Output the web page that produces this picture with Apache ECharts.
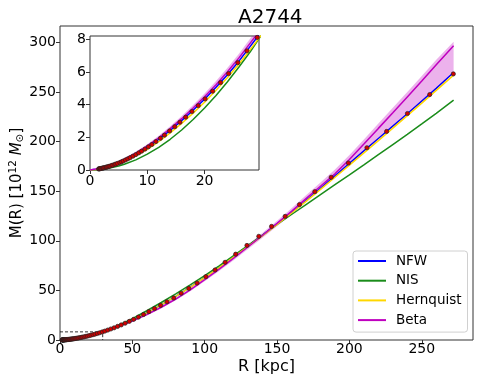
<!DOCTYPE html>
<html>
<head>
<meta charset="utf-8">
<script src="https://cdn.jsdelivr.net/npm/echarts@6/dist/echarts.min.js"></script>
<style>
html, body { margin: 0; padding: 0; background: #fff; }
#chart { width: 480px; height: 384px; }
</style>
</head>
<body>
<div id="chart"></div>
<script>
// measured points (red dots)
var R_PTS = [1.5, 1.6, 1.7, 1.8, 1.9, 2.0, 2.2, 2.3, 2.4, 2.6,
	2.8, 2.9, 3.1, 3.3, 3.5, 3.8, 4.0, 4.3, 4.5, 4.8,
	5.2, 5.5, 5.8, 6.2, 6.6, 7.0, 7.5, 8.0, 8.5, 9.0,
	9.6, 10.2, 10.8, 11.5, 12.3, 13.0, 13.9, 14.8, 15.7, 16.7,
	17.8, 18.9, 20.1, 21.4, 22.8, 24.2, 25.8, 27.4, 29.2, 31.0,
	33.0, 35.1, 37.4, 39.8, 42.3, 45.0, 47.9, 50.9, 54.2, 57.7,
	61.4, 65.3, 69.5, 73.9, 78.6, 83.7, 89.0, 94.7, 100.8, 107.2,
	114.1, 121.4, 129.2, 137.4, 146.2, 155.6, 165.5, 176.1, 187.4, 199.3,
	212.1, 225.7, 240.1, 255.5, 271.8];
var M_PTS = [0.064, 0.071, 0.078, 0.085, 0.092, 0.099, 0.116, 0.124, 0.133, 0.151,
	0.170, 0.180, 0.200, 0.221, 0.243, 0.277, 0.301, 0.338, 0.363, 0.403,
	0.458, 0.503, 0.550, 0.615, 0.683, 0.754, 0.847, 0.944, 1.045, 1.15,
	1.28, 1.42, 1.56, 1.74, 1.94, 2.13, 2.39, 2.65, 2.92, 3.23,
	3.58, 3.94, 4.35, 4.82, 5.35, 5.90, 6.57, 7.29, 8.11, 8.98,
	10.0, 11.1, 12.3, 13.7, 15.2, 16.9, 18.8, 20.8, 23.1, 25.7,
	28.6, 31.7, 34.9, 38.5, 42.4, 47.1, 52.0, 57.4, 63.8, 70.6,
	78.3, 86.5, 95.3, 104.5, 114.5, 124.6, 136.5, 149.5, 164.0, 178.4,
	193.8, 210.2, 228.3, 247.4, 268.2];

// model curves
var R_CURVE = [0, 1, 2, 3, 4, 5, 6, 8, 10, 12, 14, 16, 18, 20, 22, 24, 26, 28, 30, 35, 40, 45, 50,
	60, 70, 80, 90, 100, 110, 120, 130, 140, 150, 160, 170, 180, 190, 200, 210, 220, 230, 240, 250, 260, 272];
var NFW = [0, 0.05, 0.12, 0.21, 0.32, 0.45, 0.6, 0.95, 1.38, 1.87, 2.42, 3.02, 3.66, 4.33, 5.06, 5.83, 6.66, 7.58, 8.5, 11.0, 13.8, 16.9, 20.2,
	27.4, 35.4, 44.0, 53.2, 63.0, 73.3, 84.0, 94.8, 105.8, 117.0, 128.6, 140.6, 152.9, 165.4, 178.0, 190.6, 203.1, 215.6, 228.1, 240.8, 253.6, 269.6];
var NIS = [0, 0.01, 0.04, 0.09, 0.16, 0.24, 0.35, 0.62, 0.97, 1.39, 1.88, 2.45, 3.09, 3.8, 4.56, 5.4, 6.3, 7.25, 8.3, 11.2, 14.4, 17.9, 21.6,
	29.5, 37.8, 46.5, 55.6, 65.0, 74.8, 85.0, 95.4, 105.8, 116.5, 126.5, 136.5, 146.5, 156.5, 166.5, 176.6, 186.8, 197.0, 207.3, 217.8, 228.5, 241.7];
var HERNQUIST = [0, 0.03, 0.09, 0.17, 0.27, 0.39, 0.53, 0.86, 1.26, 1.73, 2.27, 2.85, 3.48, 4.15, 4.88, 5.66, 6.49, 7.38, 8.3, 10.85, 13.7, 16.8, 20.1,
	27.4, 35.4, 44.0, 53.1, 62.8, 73.0, 83.6, 94.3, 105.3, 116.5, 128.0, 139.8, 151.8, 164.0, 176.3, 188.6, 201.0, 213.5, 226.1, 238.8, 251.6, 267.0];
var BETA = [0, 0.06, 0.14, 0.24, 0.36, 0.5, 0.66, 1.03, 1.47, 1.97, 2.53, 3.14, 3.79, 4.48, 5.22, 6.01, 6.86, 7.78, 8.7, 11.1, 13.6, 16.3, 19.2,
	25.6, 33.0, 41.3, 50.6, 60.8, 71.4, 82.6, 94.0, 105.6, 117.5, 129.7, 142.5, 155.0, 167.5, 182.0, 197.5, 213.3, 229.0, 245.0, 261.0, 277.5, 296.7];
var BETA_LO = [0, 0.05, 0.12, 0.21, 0.32, 0.45, 0.6, 0.95, 1.37, 1.85, 2.39, 2.98, 3.61, 4.28, 5.0, 5.77, 6.6, 7.5, 8.4, 10.7, 13.1, 15.7, 18.5,
	24.7, 31.9, 40.0, 49.1, 59.1, 69.5, 80.5, 91.7, 103.1, 114.7, 126.6, 139.1, 151.2, 163.2, 177.0, 189.8, 202.6, 215.3, 228.1, 240.8, 253.6, 269.6];
var BETA_HI = [0, 0.07, 0.16, 0.27, 0.40, 0.55, 0.72, 1.11, 1.57, 2.09, 2.67, 3.3, 3.97, 4.68, 5.44, 6.25, 7.12, 8.06, 9.0, 11.5, 14.1, 16.9, 19.9,
	26.5, 34.1, 42.6, 52.1, 62.5, 73.3, 84.7, 96.3, 108.1, 120.3, 132.8, 145.9, 158.8, 171.8, 186.5, 202.2, 218.1, 234.0, 250.0, 266.0, 282.5, 300.6];

var LEGEND = ['NFW', 'NIS', 'Hernquist', 'Beta'];
var COLORS = { NFW: '#0000ff', NIS: '#1a8c1a', Hernquist: '#ffd700', Beta: '#bf00bf' };

// axis ranges: min, max, interval
var MAIN_X = [0, 285.4, 50];
var MAIN_Y = [0, 316.5, 50];
var INSET_X = [0, 29.5, 10];
var INSET_Y = [0, 8.2, 2];

var FONT = 'DejaVu Sans';

function pairs(xs, ys) {
	return xs.map(function(x, i) { return [x, ys[i]]; });
}

// Beta uncertainty band as one polygon: upper edge forward, lower edge back
function renderBand(params, api) {
	var pts = [];
	for (var i = 0; i < R_CURVE.length; i++) pts.push(api.coord([R_CURVE[i], BETA_HI[i]]));
	for (var j = R_CURVE.length - 1; j >= 0; j--) pts.push(api.coord([R_CURVE[j], BETA_LO[j]]));
	var cs = params.coordSys;
	return {
		type: 'polygon',
		shape: { points: pts },
		style: { fill: 'rgba(191,0,191,0.3)' },
		clipPath: { type: 'rect', shape: { x: cs.x, y: cs.y, width: cs.width, height: cs.height } }
	};
}

function seriesFor(ax) {
	var list = [{
		name: 'band', type: 'custom', xAxisIndex: ax, yAxisIndex: ax,
		data: [[R_CURVE[0], BETA[0]]], renderItem: renderBand, silent: true, z: 1
	}];
	var curves = { NFW: NFW, NIS: NIS, Hernquist: HERNQUIST, Beta: BETA };
	LEGEND.forEach(function(n) {
		list.push({
			name: n, type: 'line', xAxisIndex: ax, yAxisIndex: ax,
			data: pairs(R_CURVE, curves[n]), symbol: 'none', color: COLORS[n],
			lineStyle: { width: 1.5, color: COLORS[n] }, z: 2
		});
	});
	list.push({
		name: 'data', type: 'scatter', xAxisIndex: ax, yAxisIndex: ax,
		data: pairs(R_PTS, M_PTS), symbolSize: 4.2,
		itemStyle: { color: '#d40000', borderColor: '#222', borderWidth: 0.7, opacity: 1 }, z: 5
	});
	return list;
}

function valueAxis(grid, range, extra) {
	var a = {
		gridIndex: grid, type: 'value', min: range[0], max: range[1], interval: range[2],
		axisLine: { show: false },
		axisTick: { show: true, length: 4, lineStyle: { color: '#333' } },
		axisLabel: { fontSize: 14, color: '#000', fontFamily: FONT, margin: 4, showMaxLabel: false },
		splitLine: { show: false }
	};
	for (var k in extra) a[k] = extra[k];
	return a;
}

var chart = echarts.init(document.getElementById('chart'));

var series = seriesFor(0).concat(seriesFor(1));
// dashed box showing the inset region
series.push({
	name: 'zoombox', type: 'line', xAxisIndex: 0, yAxisIndex: 0, symbol: 'none', silent: true,
	data: [[0, INSET_Y[1]], [INSET_X[1], INSET_Y[1]], [INSET_X[1], 0]],
	lineStyle: { color: '#000', width: 0.8, type: [3, 2] }, z: 3
});

var mainX = valueAxis(0, MAIN_X, { name: 'R [kpc]', nameLocation: 'middle', nameGap: 19, nameMoveOverlap: false,
	nameTextStyle: { fontSize: 16, color: '#000', fontFamily: FONT } });
mainX.axisLabel.margin = 2;

var option = {
	backgroundColor: '#fff',
	animation: false,
	title: {
		text: 'A2744', left: 233, top: 3,
		textStyle: { fontSize: 20, fontWeight: 'normal', color: '#000', fontFamily: FONT }
	},
	legend: {
		data: LEGEND.map(function(n) { return { name: n, icon: 'rect' }; }),
		orient: 'vertical', left: 353, top: 251,
		itemWidth: 28, itemHeight: 2, itemGap: 3.7,
		padding: [2, 6, 4, 5],
		backgroundColor: 'rgba(255,255,255,0.8)', borderColor: '#d0d0d0', borderWidth: 1, borderRadius: 3,
		textStyle: { fontSize: 13.5, color: '#000', fontFamily: FONT, lineHeight: 16, padding: [0, 0, 0, 5] }
	},
	grid: [
		{ left: 60, top: 26, right: 7, bottom: 44, show: true, borderColor: '#333', borderWidth: 1,
			outerBoundsMode: 'none', containLabel: false },
		{ left: 90, top: 36, width: 169, height: 134, show: true, backgroundColor: '#fff', borderColor: '#333', borderWidth: 1,
			outerBoundsMode: 'none', containLabel: false }
	],
	xAxis: [mainX, valueAxis(1, INSET_X, {})],
	yAxis: [
		valueAxis(0, MAIN_Y, {
			name: 'M(R) [10{sup|12} {it|M}{sub|⊙}]', nameLocation: 'middle', nameGap: 33, nameRotate: 90,
			nameMoveOverlap: false,
			nameTextStyle: {
				fontSize: 15, color: '#000', fontFamily: FONT,
				rich: {
					sup: { fontSize: 10.5, color: '#000', fontFamily: FONT, padding: [0, 0, 8, 0] },
					it: { fontSize: 15, color: '#000', fontFamily: FONT, fontStyle: 'italic' },
					sub: { fontSize: 10.5, color: '#000', fontFamily: FONT, padding: [6, 0, 0, 0] }
				}
			}
		}),
		valueAxis(1, INSET_Y, {})
	],
	series: series
};

chart.setOption(option);
</script>
</body>
</html>
